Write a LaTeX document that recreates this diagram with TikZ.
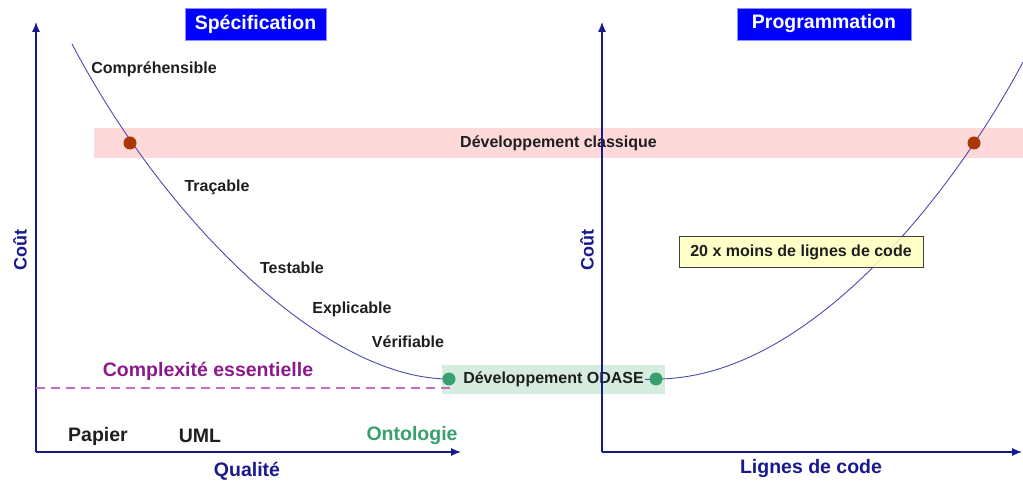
\documentclass[tikz,border=0pt]{standalone}
\usepackage{fontspec}
\setmainfont{Liberation Sans}
\usetikzlibrary{arrows.meta}

\definecolor{axisblue}{RGB}{25,25,140}
\definecolor{curveblue}{RGB}{75,75,175}
\definecolor{titleblue}{RGB}{0,0,255}
\definecolor{bandpink}{RGB}{253,217,217}
\definecolor{bandgreen}{RGB}{214,236,223}
\definecolor{dotbrown}{RGB}{170,55,5}
\definecolor{dotgreen}{RGB}{55,160,110}
\definecolor{essviolet}{RGB}{140,25,140}
\definecolor{dashviolet}{RGB}{195,110,195}
\definecolor{notebg}{RGB}{255,255,190}
\definecolor{textdark}{RGB}{30,30,30}

\tikzset{
  titlebox/.style={fill=titleblue, draw=blue!45, text=white, inner sep=0pt,
    minimum height=32pt, font=\bfseries\fontsize{19.5}{22}\selectfont},
  bandbox/.style={inner sep=0pt, text=textdark, font=\bfseries\fontsize{16}{19}\selectfont},
  quality/.style={text=textdark, font=\bfseries\fontsize{16}{19}\selectfont},
  tool/.style={font=\bfseries\fontsize{19.5}{22}\selectfont},
  axistitle/.style={text=axisblue, font=\bfseries\fontsize{19.5}{22}\selectfont},
  axisline/.style={axisblue, line width=1.1pt},
  curve/.style={curveblue, line width=0.9pt},
  pointdot/.style={circle, inner sep=0pt, minimum size=13pt},
}

\begin{document}
\begin{tikzpicture}[x=1pt, y=1pt, >={Latex[length=10pt,width=8pt]}]
    \useasboundingbox (0,0) rectangle (1023,482);

    % Background bands
    \node[bandbox, fill=bandpink, minimum width=929pt, minimum height=30pt]
        (classique) at (558.5,339) {Développement classique};
    \node[bandbox, fill=bandgreen, minimum width=223pt, minimum height=29pt]
        (odase) at (553.5,102.5) {Développement ODASE};

    % Axes of both graphs
    \coordinate (origL) at (36,30);
    \coordinate (topL) at (36,460);
    \coordinate (endL) at (461,30);
    \coordinate (origR) at (602,30);
    \coordinate (topR) at (602,460);
    \coordinate (endR) at (1022,30);
    \draw[axisline, ->] (origL) -- (topL);
    \draw[axisline, ->] (origL) -- (endL);
    \draw[axisline, ->] (origR) -- (topR);
    \draw[axisline, ->] (origR) -- (endR);

    % Titles
    \node[titlebox, minimum width=141pt] (spec) at (255.5,458) {Spécification};
    \node[titlebox, minimum width=174pt] (prog) at (824,458) {Programmation};

    % Points where the curves cross the bands
    \coordinate (startL) at (72,438);
    \coordinate (endCurveR) at (1023,420);
    \node[pointdot] (odaseL) at (449,103) {};
    \node[pointdot] (odaseR) at (656,103) {};

    % Essential complexity
    \coordinate (essL) at (36,94);
    \coordinate (essR) at (455,94);
    \draw[dashviolet, line width=1.3pt, dash pattern=on 9pt off 6pt] (essL) -- (essR);
    \node[tool, text=essviolet] (essentielle) at (208,111) {Complexité essentielle};

    % Cost curves
    \draw[curve] (startL) .. controls (170,252) and (330,103) .. (odaseL.center);
    \draw[curve] (odaseR.center) .. controls (810,103) and (955,292) .. (endCurveR);
    \draw[curve] (odase.east) ++(-20pt,0) -- (odaseR.center);

    \node[pointdot, fill=dotbrown] (classL) at (130,339) {};
    \node[pointdot, fill=dotbrown] (classR) at (974,339) {};
    \node[pointdot, fill=dotgreen] at (odaseL) {};
    \node[pointdot, fill=dotgreen] at (odaseR) {};

    % Qualities along the specification curve
    \node[quality] (compr) at (154,413) {Compréhensible};
    \node[quality] (tracable) at (217,295) {Traçable};
    \node[quality] (testable) at (292,214) {Testable};
    \node[quality] (explicable) at (352,173) {Explicable};
    \node[quality] (verifiable) at (408,140) {Vérifiable};

    % Specification tools
    \node[tool, text=textdark] (papier) at (98,46) {Papier};
    \node[tool, text=textdark] (uml) at (200,46) {UML};
    \node[tool, text=dotgreen] (ontologie) at (412,46) {Ontologie};

    % Note on the programming graph
    \node[quality, fill=notebg, fill opacity=0.85, text opacity=1, draw=black!75,
        line width=1pt, minimum width=244pt, minimum height=31pt, inner sep=0pt]
        (moins) at (801,229.5) {20 x moins de lignes de code};

    % Axis titles
    \node[axistitle] (qualite) at (247,11) {Qualité};
    \node[axistitle] (lignes) at (811,13) {Lignes de code};
    \node[axistitle, rotate=90, font=\bfseries\fontsize{18}{21}\selectfont] (coutL) at (20,232) {Coût};
    \node[axistitle, rotate=90, font=\bfseries\fontsize{18}{21}\selectfont] (coutR) at (587,232) {Coût};
\end{tikzpicture}
\end{document}
